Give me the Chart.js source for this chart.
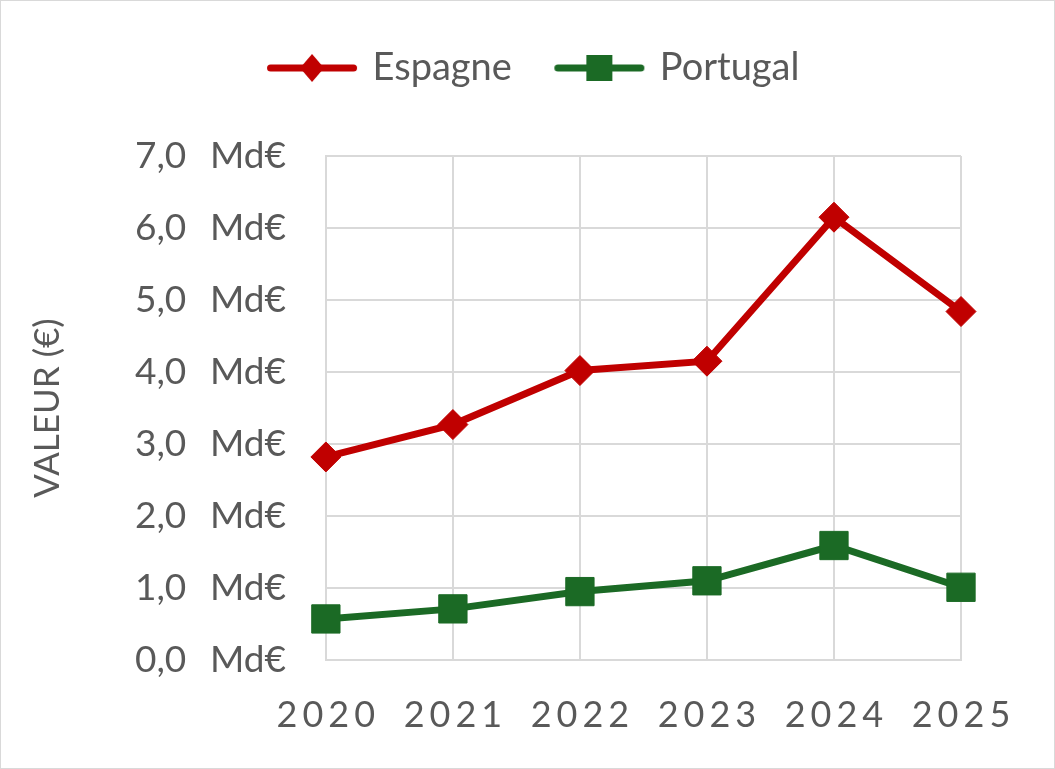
<!DOCTYPE html>
<html lang="fr">
<head>
<meta charset="utf-8">
<title>Valeur Espagne / Portugal</title>
<script src="https://cdn.jsdelivr.net/npm/chart.js"></script>
<style>
  html, body { margin: 0; padding: 0; background: #fff; }
  #caja { width: 1055px; height: 769px; box-sizing: border-box; border: 1px solid #d9d9d9; }
</style>
</head>
<body>
<div id="caja"><canvas id="miGrafica"></canvas></div>
<script>
'use strict'

// DATOS DE LA GRÁFICA
const annees = ['2020', '2021', '2022', '2023', '2024', '2025'];
const espagne = [2.82, 3.27, 4.02, 4.15, 6.15, 4.84];
const portugal = [0.57, 0.71, 0.95, 1.10, 1.59, 1.01];
const pasEje = 1;
const maxEje = 7;

const ROJO = '#c00000';
const VERDE = '#1b6a25';
const GRIS = '#595959';
const FUENTE = 'Lato, "Open Sans", sans-serif';

// ICONO DE LEYENDA: LÍNEA + MARCADOR
function crearIcono(color, forma) {
  const c = document.createElement('canvas');
  c.width = 96;
  c.height = 34;
  const g = c.getContext('2d');
  g.strokeStyle = color;
  g.fillStyle = color;
  g.lineWidth = 7;
  g.lineCap = 'round';
  g.beginPath();
  g.moveTo(6.5, 17);
  g.lineTo(89.5, 17);
  g.stroke();
  g.beginPath();
  if (forma === 'diamante') {
    g.moveTo(48, 3); g.lineTo(60, 17); g.lineTo(48, 31); g.lineTo(36, 17);
  } else {
    g.rect(35, 4, 26, 26);
  }
  g.closePath();
  g.fill();
  return c;
}
const iconos = [crearIcono(ROJO, 'diamante'), crearIcono(VERDE, 'cuadrado')];

// MÁS ESPACIO BAJO LA LEYENDA Y LEYENDA CENTRADA EN TODO EL ANCHO
const espacioLeyenda = {
  id: 'espacioLeyenda',
  beforeLayout(chart) {
    const leyenda = chart.legend;
    if (leyenda && !leyenda._parcheado) {
      const fitOriginal = leyenda.fit.bind(leyenda);
      leyenda.fit = function () { fitOriginal(); this.height += 59; };
      leyenda._parcheado = true;
    }
  },
  afterLayout(chart) {
    const leyenda = chart.legend;
    if (leyenda) {
      leyenda.left += 45;
      leyenda.right += 45;
    }
  }
};

// ETIQUETAS DEL EJE X CON ESPACIADO ENTRE LETRAS
const etiquetasX = {
  id: 'etiquetasX',
  afterDraw(chart) {
    const { ctx, chartArea } = chart;
    const x = chart.scales.x;
    ctx.save();
    ctx.font = '36px ' + FUENTE;
    ctx.fillStyle = GRIS;
    ctx.textAlign = 'center';
    ctx.textBaseline = 'middle';
    ctx.letterSpacing = '5px';
    annees.forEach((a, i) => ctx.fillText(a, x.getPixelForValue(i) + 2.5, chartArea.bottom + 55));
    ctx.restore();
  }
};

function crearGrafica() {
  const ctx = document.getElementById('miGrafica').getContext('2d');

  new Chart(ctx, {
    type: 'line',
    data: {
      labels: annees,
      datasets: [{
        label: 'Espagne',
        data: espagne,
        borderColor: ROJO,
        backgroundColor: ROJO,
        borderWidth: 7,
        pointStyle: 'rectRot',
        pointRadius: 15,
        pointBorderWidth: 1,
        tension: 0
      }, {
        label: 'Portugal',
        data: portugal,
        borderColor: VERDE,
        backgroundColor: VERDE,
        borderWidth: 7,
        pointStyle: 'rect',
        pointRadius: 20,
        pointBorderWidth: 1,
        tension: 0
      }],
    },
    options: {
      responsive: true,
      maintainAspectRatio: false,
      animation: false,
      layout: {
        padding: { top: 2, left: 18, right: 93, bottom: 108 }
      },
      scales: {
        x: {
          type: 'category',
          offset: false,
          grid: { color: '#d9d9d9', lineWidth: 2, drawTicks: false },
          border: { color: '#d9d9d9', width: 2 },
          ticks: { display: false }
        },
        y: {
          min: 0,
          max: maxEje,
          grid: { color: '#d9d9d9', lineWidth: 2, drawTicks: false },
          border: { color: '#d9d9d9', width: 2 },
          ticks: {
            stepSize: pasEje,
            padding: 40,
            color: GRIS,
            font: { family: FUENTE, size: 37 },
            callback: v => v.toFixed(1).replace('.', ',') + '\u00a0\u00a0\u2009Md€'
          },
          title: {
            display: true,
            text: 'VALEUR (€)',
            color: GRIS,
            font: { family: FUENTE, size: 35 },
            padding: { top: 8, bottom: 26 }
          }
        },
      },
      plugins: {
        legend: {
          display: true,
          labels: {
            color: GRIS,
            font: { family: FUENTE, size: 38 },
            usePointStyle: true,
            pointStyleWidth: 83,
            padding: 46,
            generateLabels(chart) {
              const items = Chart.defaults.plugins.legend.labels.generateLabels(chart);
              items.forEach((it, i) => { it.pointStyle = iconos[i]; });
              return items;
            }
          }
        },
        tooltip: { enabled: false }
      },
    },
    plugins: [espacioLeyenda, etiquetasX]
  });
}

crearGrafica();
</script>
</body>
</html>
